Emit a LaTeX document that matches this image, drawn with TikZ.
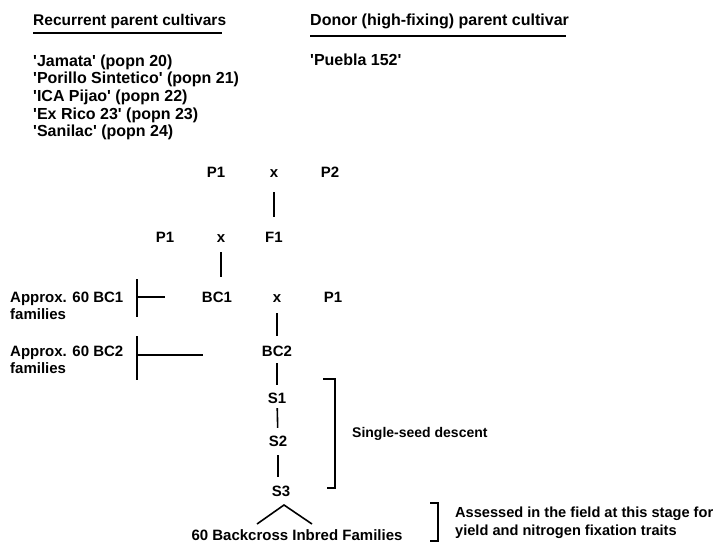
\documentclass[tikz,border=0pt]{standalone}
\usepackage{fontspec}
\setmainfont{Liberation Sans}
\newcommand\myq{\textquotesingle}
\begin{document}
\begin{tikzpicture}[x=1pt,y=-1pt,
  every node/.style={inner sep=0pt, font=\bfseries\fontsize{15}{17}\selectfont},
  lbl/.style={text height=10.7pt, text depth=0pt},
  ml/.style={align=left, anchor=north west},
  ln/.style={line width=1.6pt},
  hd/.style={line width=2pt}]
\useasboundingbox (0,0) rectangle (716,544);

% headers
\node[lbl,anchor=west,font=\bfseries\fontsize{15.5}{17}\selectfont] (recur) at (33,20) {Recurrent parent cultivars};
\draw[hd] (recur.south west) ++(0,7.5) -- ++(189,0);
\node[lbl,anchor=west,font=\bfseries\fontsize{16}{17}\selectfont] (donor) at (310,20) {Donor (high-fixing) parent cultivar};
\draw[hd] (donor.south west) ++(0,10.5) -- ++(256,0);

% cultivar lists
\node[ml, font=\bfseries\fontsize{16}{17.6}\selectfont] (list) at (33,54.5)
  {\myq Jamata\myq{} (popn 20)\\\myq Porillo Sintetico\myq{} (popn 21)\\\myq ICA Pijao\myq{} (popn 22)\\\myq Ex Rico 23\myq{} (popn 23)\\\myq Sanilac\myq{} (popn 24)};
\node[lbl,anchor=west,font=\bfseries\fontsize{16}{17}\selectfont] (puebla) at (310,60.5) {\myq Puebla 152\myq};

% crossing scheme
\node[lbl] (pa) at (216,172) {P1};
\node[lbl] (xa) at (274,172) {x};
\node[lbl] (p2) at (330,172) {P2};

\node[lbl] (pb) at (165,237) {P1};
\node[lbl] (xb) at (221,237) {x};
\node[lbl] (f1) at (274,237) {F1};

\node[lbl] (bc1) at (217,297) {BC1};
\node[lbl] (xc) at (277,297) {x};
\node[lbl] (pc) at (333,297) {P1};

\node[lbl] (bc2) at (277,351) {BC2};
\node[lbl] (s1) at (277,398) {S1};
\node[lbl] (s2) at (278,441) {S2};
\node[lbl] (s3) at (281,491) {S3};
\node[lbl] (fam) at (297,535.5) {60 Backcross Inbred Families};

\draw[ln, shorten <=14.6pt, shorten >=14.6pt] (xa) -- (f1);
\draw[ln, shorten <=9.6pt, shorten >=14.6pt] (xb) -- (xb |- bc1.north);
\draw[ln, shorten <=10.6pt, shorten >=9.6pt] (xc) -- (xc |- bc2.north);
\draw[ln, shorten <=6.6pt, shorten >=7.6pt] (bc2) -- (s1);
\draw[ln, shorten <=4.6pt, shorten >=7.6pt] (s1) -- (s2);
\draw[ln, shorten <=8.6pt, shorten >=8.6pt] (s2) -- (s2 |- s3.north);

\coordinate (apex) at (284,505);
\coordinate (tl) at (257,524);
\coordinate (tr) at (312,524);
\draw[ln] (tl) -- (apex) -- (tr);

% family brackets
\node[ml] (fam1) at (10,291.6) {Approx. 60 BC1\\families};
\coordinate (b1t) at (137,279);
\coordinate (b1b) at (137,317);
\coordinate (b1m) at (137,297);
\coordinate (b1e) at (165,297);
\draw[ln] (b1t) -- (b1b);
\draw[ln] (b1m) -- (b1e);

\node[ml] (fam2) at (10,345.6) {Approx. 60 BC2\\families};
\coordinate (b2t) at (137,336);
\coordinate (b2b) at (137,380);
\coordinate (b2m) at (137,355);
\coordinate (b2e) at (203,355);
\draw[ln] (b2t) -- (b2b);
\draw[ln] (b2m) -- (b2e);

% single-seed descent bracket
\coordinate (sa) at (323,379);
\coordinate (sb) at (335,379);
\coordinate (sc) at (335,488);
\coordinate (sd) at (327,488);
\draw[ln] (sa) -- (sb) -- (sc) -- (sd);
\node[lbl,anchor=west,font=\bfseries\fontsize{14}{17}\selectfont] (ssd) at (352,432) {Single-seed descent};

% assessed bracket
\coordinate (aa) at (430,503);
\coordinate (ab) at (438,503);
\coordinate (ac) at (438,541);
\coordinate (ad) at (430,541);
\draw[ln] (aa) -- (ab) -- (ac) -- (ad);
\node[ml,font=\bfseries\fontsize{14.6}{18}\selectfont] (assess) at (455,506.5) {Assessed in the field at this stage for\\yield and nitrogen fixation traits};
\end{tikzpicture}
\end{document}
